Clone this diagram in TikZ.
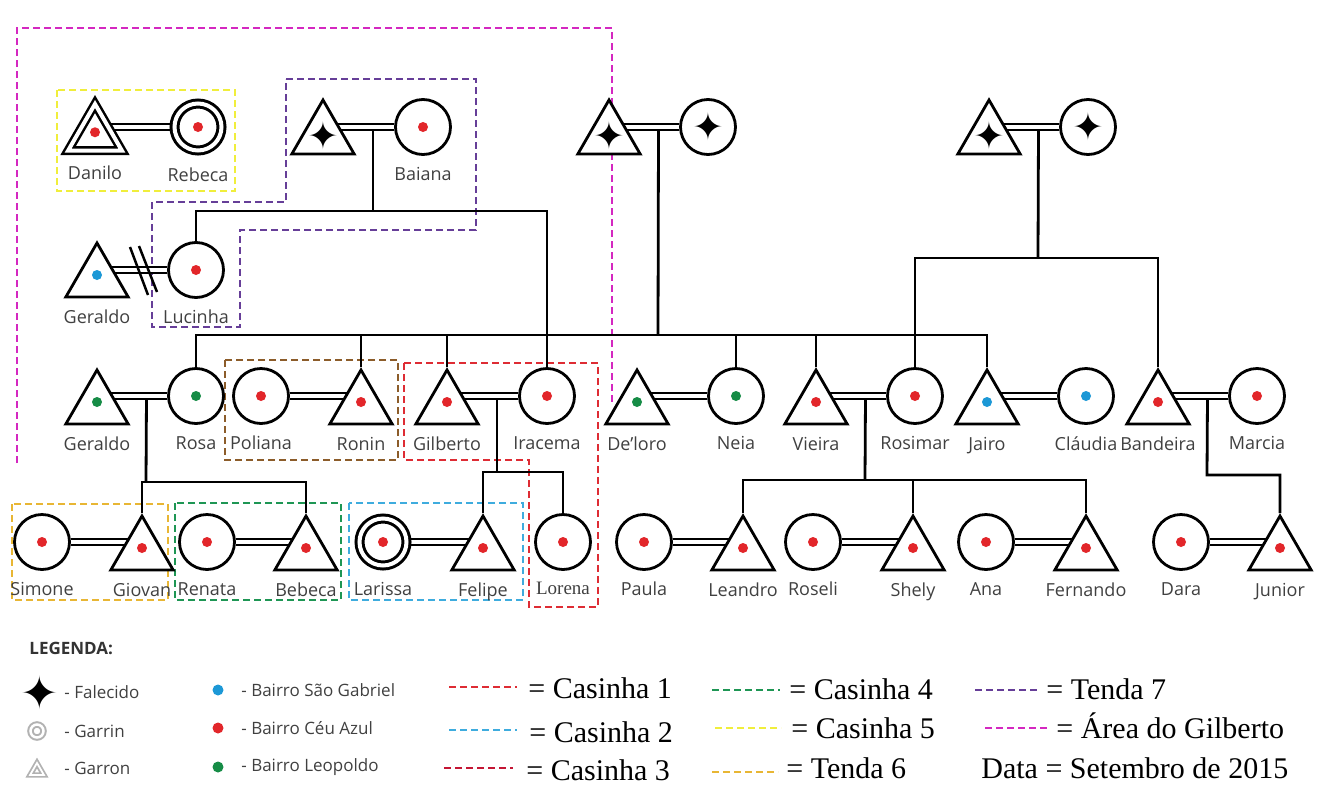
\documentclass[tikz,border=0pt]{standalone}
\usepackage{fontspec}
\setmainfont{Open Sans}
\newfontfamily\serifa{Liberation Serif}
\newfontfamily\simbolos{DejaVu Sans}
\usetikzlibrary{shapes.geometric, backgrounds, calc}

\definecolor{corCeu}{RGB}{226,38,42}
\definecolor{corGabriel}{RGB}{28,152,214}
\definecolor{corLeopoldo}{RGB}{22,140,70}
\definecolor{casinhaUm}{RGB}{222,44,52}
\definecolor{casinhaDois}{RGB}{62,172,222}
\definecolor{casinhaTres}{RGB}{196,22,52}
\definecolor{casinhaQuatro}{RGB}{30,150,84}
\definecolor{casinhaCinco}{RGB}{240,238,60}
\definecolor{tendaSeis}{RGB}{232,182,52}
\definecolor{tendaSete}{RGB}{102,62,152}
\definecolor{areaGilberto}{RGB}{212,40,192}
\definecolor{marrom}{RGB}{140,92,42}

\newcommand{\nome}{\fontsize{18}{20}\selectfont}
\newcommand{\legtexto}{\fontsize{17}{20}\selectfont}
\newcommand{\legserifa}{\serifa\fontsize{30}{32}\selectfont}

\tikzset{
  genograma/.style={
	x=1pt, y=-1pt, % pixel units, y grows downwards
	line width=2.8pt,
	label distance=10pt,
	every label/.style={font=\nome, text=black!75, inner sep=0pt},
  },
  desloc/.initial=0pt, % vertical offset of the dot inside a shape
  mulher/.style={circle, draw, fill=white, inner sep=0pt, minimum size=55pt},
  homem/.style={regular polygon, regular polygon sides=3, draw, fill=white, inner sep=0pt, minimum size=72pt, desloc=-5pt},
  garrin/.style={mulher, double, double distance=4pt, line width=3pt, minimum size=47pt},
  garron/.style={homem, double, double distance=4pt, line width=2.5pt, minimum size=62pt},
  ponto/.style={path picture={\fill[#1] ([yshift=\pgfkeysvalueof{/tikz/desloc}]path picture bounding box.center) circle (5pt);}},
  ceu/.style={ponto=corCeu},
  gabriel/.style={ponto=corGabriel},
  leopoldo/.style={ponto=corLeopoldo},
  falecido/.style={label={[font=\simbolos\fontsize{38}{38}\selectfont, text=black, label distance=0pt]center:✦}},
  casal/.style={double, double distance=3.5pt, line width=2.5pt}, % marriage line
  casinha/.style={dash pattern=on 7pt off 4pt, line width=2.5pt},
  itemLeg/.style={anchor=west, inner sep=0pt, font=\legtexto, text=black!75},
  itemArea/.style={anchor=base west, inner sep=0pt, font=\legserifa},
}

\begin{document}
\begin{tikzpicture}[genograma]
\useasboundingbox (0,0) rectangle (1323,785);

% first generation
\node[garron, ceu, label={[label distance=13pt]below:Danilo}] (danilo) at (95,135) {};
\node[garrin, ceu, label={[label distance=14pt]below:Rebeca}] (rebeca) at (198,127) {};
\node[homem, falecido] (avoBaiana) at (323,136) {};
\node[mulher, ceu, label=below:Baiana] (baiana) at (423,127) {};
\node[homem, falecido] (avoA) at (609,136) {};
\node[mulher, falecido] (avoB) at (708,127) {};
\node[homem, falecido] (avoC) at (989,136) {};
\node[mulher, falecido] (avoD) at (1088,127) {};

% second generation
\node[homem, gabriel, label=below:Geraldo] (geraldoA) at (97,279) {};
\node[mulher, ceu, label=below:Lucinha] (lucinha) at (196,270) {};

% third generation
\node[homem, leopoldo, label=below:Geraldo] (geraldoB) at (97,406) {};
\node[mulher, leopoldo, label=below:Rosa] (rosa) at (196,396) {};
\node[mulher, ceu, label=below:Poliana] (poliana) at (261,396) {};
\node[homem, ceu, label=below:Ronin] (ronin) at (361,406) {};
\node[homem, ceu, label=below:Gilberto] (gilberto) at (447,406) {};
\node[mulher, ceu, label=below:Iracema] (iracema) at (547,396) {};
\node[homem, leopoldo, label=below:De’loro] (deloro) at (637,406) {};
\node[mulher, leopoldo, label=below:Neia] (neia) at (736,396) {};
\node[homem, ceu, label=below:Vieira] (vieira) at (816,406) {};
\node[mulher, ceu, label=below:Rosimar] (rosimar) at (915,396) {};
\node[homem, gabriel, label=below:Jairo] (jairo) at (987,406) {};
\node[mulher, gabriel, label=below:Cláudia] (claudia) at (1086,396) {};
\node[homem, ceu, label=below:Bandeira] (bandeira) at (1158,406) {};
\node[mulher, ceu, label=below:Marcia] (marcia) at (1257,396) {};

% fourth generation
\node[mulher, ceu, label=below:Simone] (simone) at (42,542) {};
\node[homem, ceu, label=below:Giovan] (giovan) at (142,552) {};
\node[mulher, ceu, label=below:Renata] (renata) at (207,542) {};
\node[homem, ceu, label=below:Bebeca] (bebeca) at (306,552) {};
\node[garrin, ceu, label={[label distance=14pt]below:Larissa}] (larissa) at (383,542) {};
\node[homem, ceu, label=below:Felipe] (felipe) at (483,552) {};
\node[mulher, ceu, label={[font=\serifa\fontsize{19}{21}\selectfont]below:Lorena}] (lorena) at (563,542) {};
\node[mulher, ceu, label=below:Paula] (paula) at (644,542) {};
\node[homem, ceu, label=below:Leandro] (leandro) at (743,552) {};
\node[mulher, ceu, label=below:Roseli] (roseli) at (813,542) {};
\node[homem, ceu, label=below:Shely] (shely) at (913,552) {};
\node[mulher, ceu, label=below:Ana] (ana) at (986,542) {};
\node[homem, ceu, label=below:Fernando] (fernando) at (1086,552) {};
\node[mulher, ceu, label=below:Dara] (dara) at (1181,542) {};
\node[homem, ceu, label=below:Junior] (junior) at (1280,552) {};

% couples and sibling lines
\coordinate (fBaiana) at ($(avoBaiana |- baiana)!.5!(baiana)$);
\coordinate (fAvoA) at ($(avoA |- avoB)!.5!(avoB)$);
\coordinate (fAvoC) at ($(avoC |- avoD)!.5!(avoD)$);
\coordinate (fRosa) at ($(geraldoB |- rosa)!.5!(rosa)$);
\coordinate (fGilberto) at ($(gilberto |- iracema)!.5!(iracema)$);
\coordinate (fVieira) at ($(vieira |- rosimar)!.5!(rosimar)$);
\coordinate (fBandeira) at ($(bandeira |- marcia)!.5!(marcia)$);
\coordinate (jBaiana) at (373,211);
\coordinate (jIrmaos) at (658,335);
\coordinate (jAvoC) at (1038,258);
\coordinate (jRosa) at (146,482);
\coordinate (jGilberto) at (497,472);
\coordinate (jVieira) at (865,480);
\coordinate (jBandeira) at (1207,475);

\begin{scope}[on background layer]
\begin{scope}[line width=2.8pt]
% houses and areas
\draw[casinha, areaGilberto] (17,463) -- (17,28) -- (612,28) -- (612,403);
\draw[casinha, casinhaCinco] (57,90) rectangle (235,191);
\draw[casinha, tendaSete] (286,79) -- (476,79) -- (476,230) -- (240,230) -- (240,327)
	-- (152,327) -- (152,202) -- (286,202) -- cycle;
\draw[casinha, marrom] (225,360) rectangle (398,460);
\draw[casinha, casinhaUm] (404,363) -- (598,363) -- (598,607) -- (529,607) -- (529,460)
	-- (404,460) -- cycle;
\draw[casinha, tendaSeis] (12,504) rectangle (168,600);
\draw[casinha, casinhaQuatro] (175,503) rectangle (341,600);
\draw[casinha, casinhaDois] (349,503) rectangle (523,600);

% descent
\draw (fBaiana) -- (jBaiana);
\draw (lucinha) |- (jBaiana) -| (iracema);
\draw (fAvoA) -- (jIrmaos);
\draw (rosa) |- (jIrmaos) -| (jairo);
\draw (ronin) -- (ronin |- jIrmaos);
\draw (gilberto) -- (gilberto |- jIrmaos);
\draw (neia) -- (neia |- jIrmaos);
\draw (vieira) -- (vieira |- jIrmaos);
\draw (fAvoC) -- (jAvoC);
\draw (rosimar) |- (jAvoC) -| (bandeira);
\draw (fRosa) -- (jRosa);
\draw (giovan) |- (jRosa) -| (bebeca);
\draw (fGilberto) -- (jGilberto);
\draw (felipe) |- (jGilberto) -| (lorena);
\draw (fVieira) -- (jVieira);
\draw (leandro) |- (jVieira) -| (fernando);
\draw (shely) -- (shely |- jVieira);
\draw (fBandeira) -- (jBandeira) -| (junior);

% marriages
\draw[casal] (danilo |- rebeca) -- (rebeca);
\draw[casal] (avoBaiana |- baiana) -- (baiana);
\draw[casal] (avoA |- avoB) -- (avoB);
\draw[casal] (avoC |- avoD) -- (avoD);
\draw[casal] (geraldoA |- lucinha) -- (lucinha);
\draw[casal] (geraldoB |- rosa) -- (rosa);
\draw[casal] (poliana) -- (poliana -| ronin);
\draw[casal] (gilberto |- iracema) -- (iracema);
\draw[casal] (deloro |- neia) -- (neia);
\draw[casal] (vieira |- rosimar) -- (rosimar);
\draw[casal] (jairo |- claudia) -- (claudia);
\draw[casal] (bandeira |- marcia) -- (marcia);
\draw[casal] (simone) -- (simone -| giovan);
\draw[casal] (renata) -- (renata -| bebeca);
\draw[casal] (larissa) -- (larissa -| felipe);
\draw[casal] (paula) -- (paula -| leandro);
\draw[casal] (roseli) -- (roseli -| shely);
\draw[casal] (ana) -- (ana -| fernando);
\draw[casal] (dara) -- (dara -| junior);
\end{scope}
\end{scope}

% separation
\draw[line width=2.5pt] (130,247) -- (148,295);
\draw[line width=2.5pt] (139,246) -- (157,292);

% legend
\node[itemLeg, font=\legtexto\bfseries, text=black!80] (legenda) at (28,648) {LEGENDA:};
\node[inner sep=0pt, font=\simbolos\fontsize{46}{46}\selectfont] (legFalecido) at (40,693) {✦};
\node[garrin, draw=gray!60, line width=2pt, double distance=2.5pt, minimum size=13pt] (legGarrin) at (37,731) {};
\node[garron, draw=gray!60, line width=1.8pt, double distance=1.8pt, minimum size=16pt] (legGarron) at (37,771) {};
\node[itemLeg] (tFalecido) at (63,692) {- Falecido};
\node[itemLeg] (tGarrin) at (63,731) {- Garrin};
\node[itemLeg] (tGarron) at (63,768) {- Garron};

\fill[corGabriel] (218,690) circle (5.5pt);
\fill[corCeu] (218,728) circle (5.5pt);
\fill[corLeopoldo] (218,767) circle (5.5pt);
\node[itemLeg] (tGabriel) at (240,690) {- Bairro São Gabriel};
\node[itemLeg] (tCeu) at (240,728) {- Bairro Céu Azul};
\node[itemLeg] (tLeopoldo) at (240,767) {- Bairro Leopoldo};

\draw[casinha, casinhaUm] (449,687) -- (517,687);
\draw[casinha, casinhaDois] (449,730) -- (517,730);
\draw[casinha, casinhaTres] (444,768) -- (513,768);
\node[itemArea] (tCasinhaUm) at (527,698) {= Casinha 1};
\node[itemArea] (tCasinhaDois) at (528,742) {= Casinha 2};
\node[itemArea] (tCasinhaTres) at (525,780) {= Casinha 3};

\draw[casinha, casinhaQuatro] (712,690) -- (780,690);
\draw[casinha, casinhaCinco] (715,728) -- (781,728);
\draw[casinha, tendaSeis] (712,772) -- (778,772);
\node[itemArea] (tCasinhaQuatro) at (788,699) {= Casinha 4};
\node[itemArea] (tCasinhaCinco) at (790,738) {= Casinha 5};
\node[itemArea] (tTendaSeis) at (785,778) {= Tenda 6};

\draw[casinha, tendaSete] (975,690) -- (1040,690);
\draw[casinha, areaGilberto] (985,728) -- (1050,728);
\node[itemArea] (tTendaSete) at (1045,699) {= Tenda 7};
\node[itemArea] (tArea) at (1055,738) {= Área do Gilberto};
\node[itemArea] (tData) at (980,778) {Data = Setembro de 2015};
\end{tikzpicture}
\end{document}
